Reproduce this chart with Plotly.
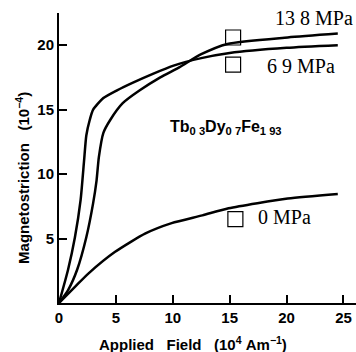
import plotly.graph_objects as go

# Data
field_69 = [0, 0.8, 1.4, 1.9, 2.2, 2.4, 2.7, 3.0, 3.9, 5.1, 6.5, 8.3, 10.0, 12.5, 15, 20, 24.5]
ms_69 = [0, 2.6, 5.1, 8.0, 11.0, 13.0, 14.2, 15.0, 15.9, 16.5, 17.1, 17.8, 18.4, 19.0, 19.4, 19.8, 20.0]

field_138 = [0, 0.8, 1.6, 2.4, 3.0, 3.3, 3.5, 3.9, 4.5, 5.6, 7.1, 8.9, 10.6, 12.5, 14.8, 20.1, 24.5]
ms_138 = [0, 1.0, 2.6, 5.1, 7.75, 9.5, 11.3, 13.2, 14.2, 15.5, 16.5, 17.5, 18.3, 19.3, 20.1, 20.6, 20.9]

field_0 = [0, 1.4, 2.6, 4.9, 7.6, 9.9, 12.6, 14.9, 20.1, 24.5]
ms_0 = [0, 1.25, 2.3, 3.95, 5.4, 6.2, 6.8, 7.35, 8.1, 8.45]

marker_x = [15.3, 15.3, 15.5]
marker_y = [20.6, 18.5, 6.5]

curve_labels = ["13 8 MPa", "6 9 MPa", "0 MPa"]
label_x = [18.8, 18.1, 17.3]
label_y = [22.1, 18.4, 6.7]

x_ticks = [0, 5, 10, 15, 20, 25]
y_ticks = [5, 10, 15, 20]

NB = "\u00a0"
x_title = f"Applied{NB*3}Field{NB*3}(10<sup>4</sup>{NB}Am<sup>\u22121</sup>)"
y_title = f"Magnetostriction{NB*3}(10<sup>\u22124</sup>)"

fig = go.Figure()
line_style = dict(color="black", width=2.5, shape="spline", smoothing=0.6)
for xs, ys in [(field_69, ms_69), (field_138, ms_138), (field_0, ms_0)]:
    fig.add_trace(go.Scatter(x=xs, y=ys, mode="lines", line=line_style,
                             showlegend=False, hoverinfo="skip"))

fig.add_trace(go.Scatter(x=marker_x, y=marker_y, mode="markers",
                         marker=dict(symbol="square-open", size=15, color="black",
                                     line=dict(width=1.2, color="black")),
                         showlegend=False, hoverinfo="skip"))

for t, lx, ly in zip(curve_labels, label_x, label_y):
    fig.add_annotation(x=lx, y=ly, text=t, showarrow=False, xanchor="left",
                       font=dict(family="Liberation Serif", size=20, color="black"))

fig.add_annotation(x=14.7, y=13.6,
                   text="Tb<sub>0 3</sub>Dy<sub>0 7</sub>Fe<sub>1 93</sub>",
                   showarrow=False,
                   font=dict(family="Liberation Sans", size=16, color="black", weight="bold"))

title_font = dict(family="Liberation Sans", size=15, color="black", weight="bold")
fig.add_annotation(xref="paper", yref="paper", x=0.451, y=-0.138, text=x_title,
                   xanchor="center", yanchor="middle", showarrow=False, font=title_font)
fig.add_annotation(xref="paper", yref="paper", x=-0.125, y=0.431, text=y_title,
                   xanchor="center", yanchor="middle", showarrow=False,
                   textangle=-90, font=title_font)

axis_font = dict(family="Liberation Sans", size=15, color="black", weight="bold")
fig.update_xaxes(range=[0, 26.1], tickvals=x_ticks, ticks="inside", ticklen=8,
                 tickwidth=2, tickcolor="black", showline=True, linecolor="black",
                 linewidth=2, showgrid=False, zeroline=False, tickfont=axis_font,
                 automargin=False)
fig.update_yaxes(range=[0, 22.5], tickvals=y_ticks, ticks="inside", ticklen=8,
                 tickwidth=2, tickcolor="black", showline=True, linecolor="black",
                 linewidth=2, showgrid=False, zeroline=False, tickfont=axis_font,
                 automargin=False)

fig.update_layout(width=356, height=352, margin=dict(l=59, r=0, t=13, b=49),
                  plot_bgcolor="white", paper_bgcolor="white")

fig.write_html("out.html", config={"displayModeBar": False},
               post_script="document.body.style.margin='0';document.body.style.overflow='hidden';")
